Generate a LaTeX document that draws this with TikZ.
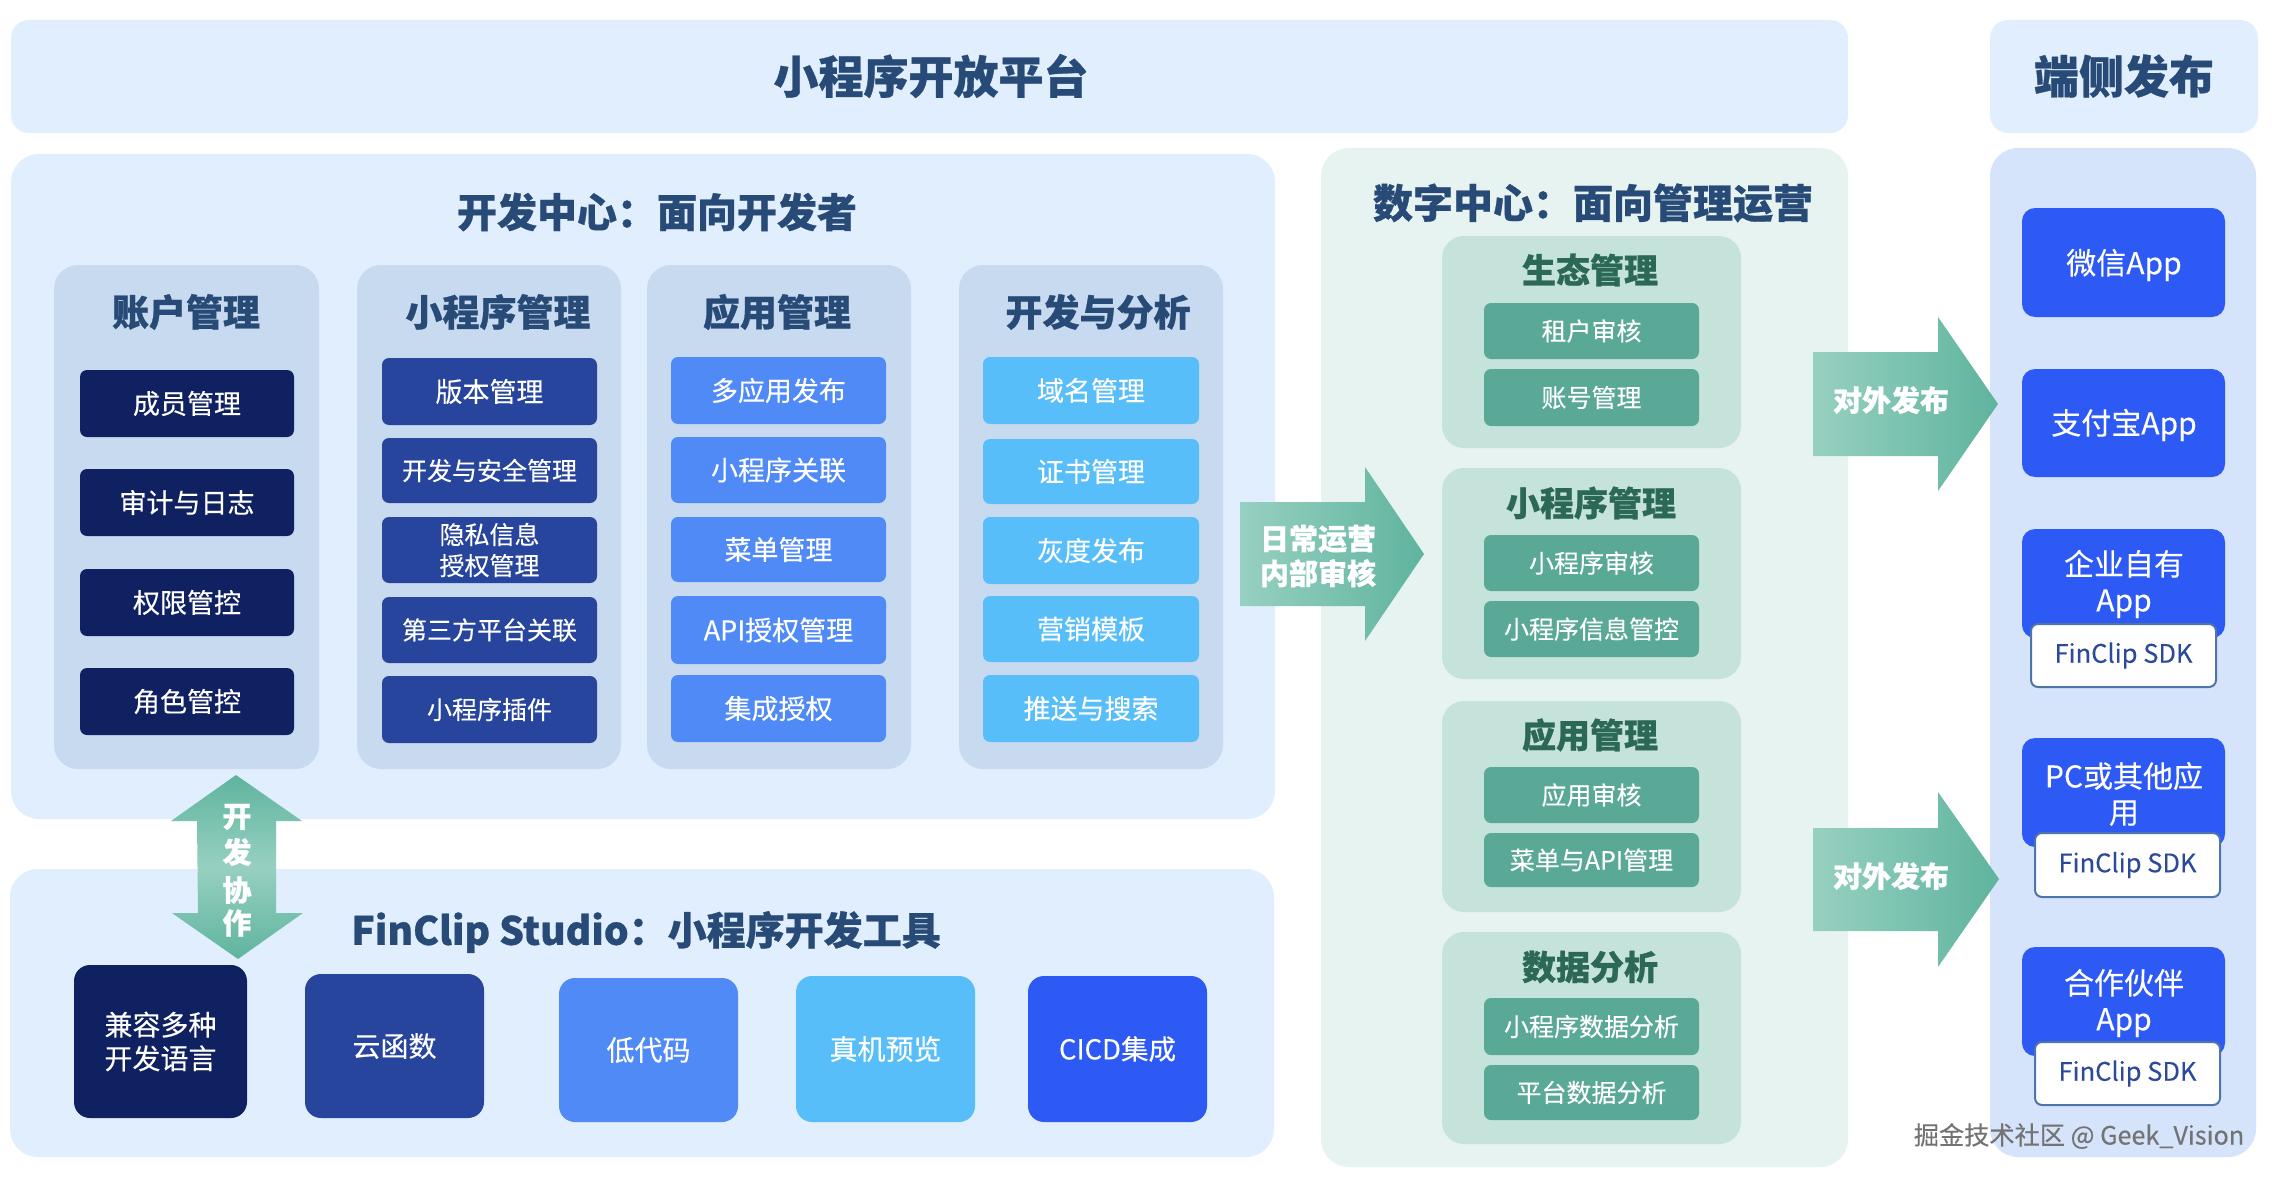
\documentclass[tikz,border=0pt]{standalone}
\usepackage{fontspec}
\setmainfont{Noto Sans CJK SC}[FakeBold=0.25,BoldFeatures={FakeBold=0.7}]
\definecolor{bannerC}{HTML}{E0EEFE}
\definecolor{colC}{HTML}{C7DAF0}
\definecolor{navyC}{HTML}{102161}
\definecolor{midC}{HTML}{27459C}
\definecolor{blueC}{HTML}{508AF6}
\definecolor{cyanC}{HTML}{58BEFA}
\definecolor{brightC}{HTML}{2D59F5}
\definecolor{digiC}{HTML}{E6F3F0}
\definecolor{subC}{HTML}{C5E2DB}
\definecolor{tealC}{HTML}{59A996}
\definecolor{rightC}{HTML}{D5E4FB}
\definecolor{titleC}{HTML}{274A77}
\definecolor{greenT}{HTML}{2C6856}
\definecolor{sdkC}{HTML}{2D4A9A}
\definecolor{sdkB}{HTML}{4E74A8}
\definecolor{arrL}{HTML}{97D0C1}
\definecolor{arrD}{HTML}{5FB49E}
\newcommand{\fsz}[1]{\fontsize{#1pt}{\the\dimexpr#1pt*12/10\relax}\selectfont}
% \bx{name}{x1}{y1}{x2}{y2}{style}{text}
\newcommand{\bx}[7]{%
  \pgfmathsetmacro{\bxW}{#4-#2}\pgfmathsetmacro{\bxH}{#5-#3}%
  \pgfmathsetmacro{\bxX}{(#2+#4)/2}\pgfmathsetmacro{\bxY}{(#3+#5)/2}%
  \node[#6,minimum width=\bxW pt,minimum height=\bxH pt] (#1) at (\bxX,\bxY) {#7};}
\tikzset{
  base/.style={inner sep=0pt,outer sep=0pt,align=center,draw=none},
  banner/.style={base,fill=bannerC,rounded corners=18pt},
  panel/.style={base,rounded corners=28pt},
  col/.style={base,fill=colC,rounded corners=24pt},
  item/.style={base,rounded corners=7pt,text=white,font=\fsz{27}},
  navy/.style={item,fill=navyC},
  mid/.style={item,fill=midC},
  blu/.style={item,fill=blueC},
  cya/.style={item,fill=cyanC},
  tile/.style={base,rounded corners=16pt,text=white,font=\fsz{28}},
  sub/.style={base,fill=subC,rounded corners=22pt},
  teal/.style={item,fill=tealC,font=\fsz{25}},
  app/.style={base,fill=brightC,rounded corners=13pt,text=white,font=\fsz{30}},
  appT/.style={inner sep=0pt,align=center,text=white,font=\fsz{30}},
  sdk/.style={base,fill=white,draw=sdkB,line width=2pt,rounded corners=7pt,text=sdkC,font=\fsz{25.5}},
  hT/.style={inner sep=0pt,text=titleC,font=\fsz{45}\bfseries},
  cT/.style={inner sep=0pt,text=titleC,font=\fsz{37}\bfseries},
  pT/.style={inner sep=0pt,text=titleC,font=\fsz{40}\bfseries},
  gT/.style={inner sep=0pt,text=greenT,font=\fsz{34}\bfseries},
  aT/.style={inner sep=0pt,text=white,align=center,font=\fsz{29}\bfseries},
  harr/.style={left color=arrL,right color=arrD,draw=none},
  varr/.style={top color=arrD,bottom color=arrD,middle color=arrL,draw=none},
}
\begin{document}
\begin{tikzpicture}[x=1pt,y=-1pt]
\useasboundingbox[fill=white] (0,0) rectangle (2276,1180);
% top banners
\bx{topA}{11}{20}{1848}{133}{banner}{}
\bx{topB}{1990}{20}{2258}{133}{banner}{}
\node[hT] (topAt) at (931,76) {小程序开放平台};
\node[hT] (topBt) at (2124,76) {端侧发布};
% main panels
\bx{dev}{11}{154}{1275}{819}{panel,fill=bannerC}{}
\bx{studio}{10}{869}{1274}{1157}{panel,fill=bannerC}{}
\bx{digi}{1321}{148}{1848}{1167}{panel,fill=digiC}{}
\bx{right}{1990}{148}{2256}{1157}{panel,fill=rightC}{}
\node[pT] (devT) at (657,212) {开发中心：面向开发者};
\node[pT] (digiT) at (1593,203) {数字中心：面向管理运营};
\node[cT,font=\fsz{39}\bfseries] (studioT) at (646,932) {FinClip Studio：小程序开发工具};
% columns
\bx{c1}{54}{265}{319}{769}{col}{}
\bx{c2}{357}{265}{621}{769}{col}{}
\bx{c3}{647}{265}{911}{769}{col}{}
\bx{c4}{959}{265}{1223}{769}{col}{}
\node[cT] (c1t) at (186,312) {账户管理};
\node[cT] (c2t) at (498,312) {小程序管理};
\node[cT] (c3t) at (777,312) {应用管理};
\node[cT] (c4t) at (1098,312) {开发与分析};
% column 1
\bx{a1}{80}{370}{294}{437}{navy}{成员管理}
\bx{a2}{80}{469}{294}{536}{navy}{审计与日志}
\bx{a3}{80}{569}{294}{636}{navy}{权限管控}
\bx{a4}{80}{668}{294}{735}{navy}{角色管控}
% column 2
\bx{b1}{382}{358}{597}{425}{mid}{版本管理}
\bx{b2}{382}{438}{597}{503}{mid,font=\fsz{25}}{开发与安全管理}
\bx{b3}{382}{517}{597}{583}{mid,font=\fsz{25}}{隐私信息\\[1pt]授权管理}
\bx{b4}{382}{597}{597}{663}{mid,font=\fsz{25}}{第三方平台关联}
\bx{b5}{382}{676}{597}{743}{mid,font=\fsz{25}}{小程序插件}
% column 3
\bx{d1}{671}{357}{886}{424}{blu}{多应用发布}
\bx{d2}{671}{437}{886}{503}{blu}{小程序关联}
\bx{d3}{671}{517}{886}{582}{blu}{菜单管理}
\bx{d4}{671}{596}{886}{664}{blu}{API授权管理}
\bx{d5}{671}{675}{886}{742}{blu}{集成授权}
% column 4
\bx{e1}{983}{357}{1199}{424}{cya}{域名管理}
\bx{e2}{983}{439}{1199}{504}{cya}{证书管理}
\bx{e3}{983}{517}{1199}{584}{cya}{灰度发布}
\bx{e4}{983}{596}{1199}{662}{cya}{营销模板}
\bx{e5}{983}{675}{1199}{742}{cya}{推送与搜索}
% studio tiles
\bx{s1}{74}{965}{247}{1118}{tile,fill=navyC}{兼容多种\\[0pt]开发语言}
\bx{s2}{305}{974}{484}{1118}{tile,fill=midC}{云函数}
\bx{s3}{559}{978}{738}{1122}{tile,fill=blueC}{低代码}
\bx{s4}{796}{976}{975}{1122}{tile,fill=cyanC}{真机预览}
\bx{s5}{1028}{976}{1207}{1122}{tile,fill=brightC,font=\fsz{27.5}}{CICD集成}
% digital centre
\bx{g1}{1442}{236}{1741}{448}{sub}{}
\bx{g2}{1442}{468}{1741}{679}{sub}{}
\bx{g3}{1442}{701}{1741}{912}{sub}{}
\bx{g4}{1442}{932}{1741}{1144}{sub}{}
\node[gT] (g1t) at (1590,270) {生态管理};
\node[gT] (g2t) at (1591,503) {小程序管理};
\node[gT] (g3t) at (1590,735) {应用管理};
\node[gT] (g4t) at (1590,967) {数据分析};
\bx{h1}{1484}{303}{1699}{359}{teal}{租户审核}
\bx{h2}{1484}{369}{1699}{426}{teal}{账号管理}
\bx{h3}{1484}{535}{1699}{591}{teal}{小程序审核}
\bx{h4}{1484}{601}{1699}{657}{teal}{小程序信息管控}
\bx{h5}{1484}{767}{1699}{823}{teal}{应用审核}
\bx{h6}{1484}{833}{1699}{887}{teal}{菜单与API管理}
\bx{h7}{1484}{998}{1699}{1055}{teal}{小程序数据分析}
\bx{h8}{1484}{1065}{1699}{1120}{teal}{平台数据分析}
% right column
\bx{p1}{2022}{208}{2225}{317}{app}{}
\bx{p2}{2022}{369}{2225}{477}{app}{}
\bx{p3}{2022}{529}{2225}{638}{app}{}
\bx{p4}{2022}{738}{2225}{847}{app}{}
\bx{p5}{2022}{947}{2225}{1056}{app}{}
\node[appT] (p1t) at (2124,265) {微信App};
\node[appT] (p2t) at (2124,425) {支付宝App};
\node[appT] (p3t) at (2124,584) {企业自有\\[0pt]App};
\node[appT] (p4t) at (2124,794) {PC或其他应\\[0pt]用};
\node[appT] (p5t) at (2124,1003) {合作伙伴\\[0pt]App};
\bx{k1}{2031}{624}{2216}{687}{sdk}{FinClip SDK}
\bx{k2}{2035}{833}{2220}{897}{sdk}{FinClip SDK}
\bx{k3}{2035}{1042}{2220}{1105}{sdk}{FinClip SDK}
% block arrows
\shade[varr] (236,775) -- (302,821) -- (276,821) -- (276,913) -- (303,913) -- (238,959) -- (172,913) -- (198,913) -- (197,821) -- (171,821) -- cycle;
\shade[harr] (1240,502) -- (1365,502) -- (1365,467) -- (1424,554) -- (1365,641) -- (1365,606) -- (1240,606) -- cycle;
\shade[harr] (1813,352) -- (1938,352) -- (1938,317) -- (1998,404) -- (1938,491) -- (1938,456) -- (1813,456) -- cycle;
\shade[harr] (1813,828) -- (1938,828) -- (1938,792) -- (1999,879) -- (1938,967) -- (1938,931) -- (1813,931) -- cycle;
\node[aT] (v1) at (237,817) {开};
\node[aT] (v2) at (237,852) {发};
\node[aT] (v3) at (237,890) {协};
\node[aT] (v4) at (237,923) {作};
\node[aT] (at1) at (1318,556) {日常运营\\[0pt]内部审核};
\node[aT] (at2) at (1891,400) {对外发布};
\node[aT] (at3) at (1891,876) {对外发布};
% watermark
\node[inner sep=0pt,text=black!55,font=\fsz{25.2}] (wm) at (2079,1136) {掘金技术社区 @ Geek\_Vision};
\end{tikzpicture}
\end{document}
